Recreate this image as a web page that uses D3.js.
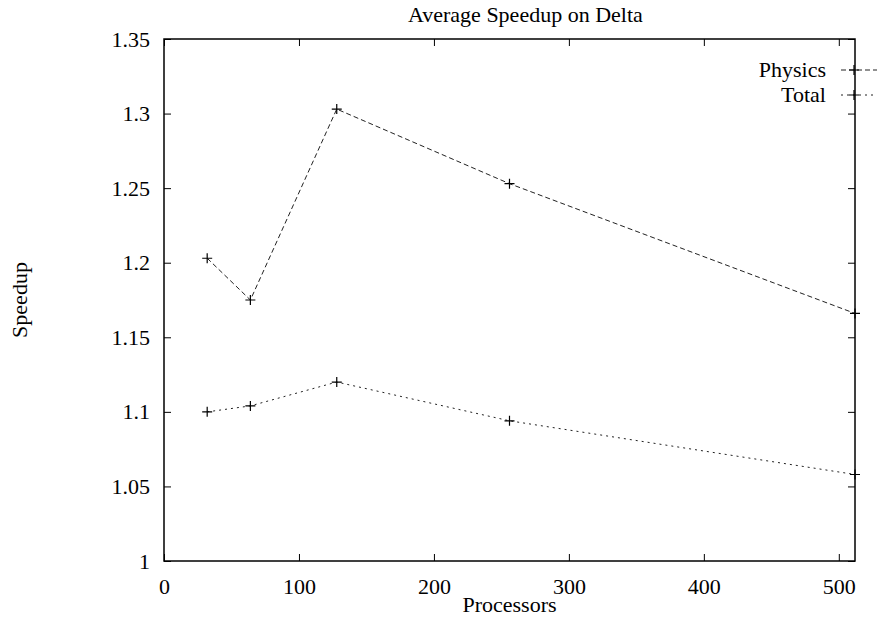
<!DOCTYPE html>
<html>
<head>
<meta charset="utf-8">
<script src="https://cdn.jsdelivr.net/npm/d3@7"></script>
<style>
  body { margin: 0; background: #fff; }
  text { font-family: "Liberation Serif", "Times New Roman", serif; fill: #000; }
</style>
</head>
<body>
<div id="chart"></div>
<script>
var svgWidth = 895;
var svgHeight = 618;

var margin = { top: 39, right: 40, bottom: 57, left: 164 };
var width = svgWidth - margin.left - margin.right;
var height = svgHeight - margin.top - margin.bottom;

// data
var processors = [32, 64, 128, 256, 512];
var physics = [1.203, 1.175, 1.303, 1.253, 1.166];
var total = [1.100, 1.104, 1.120, 1.094, 1.058];
var xTicks = [0, 100, 200, 300, 400, 500];
var yTicks = [1, 1.05, 1.1, 1.15, 1.2, 1.25, 1.3, 1.35];

var series = [
    { name: "Physics", values: physics, dash: "5,3" },
    { name: "Total", values: total, dash: "2,4" }
];

var svg = d3.select("#chart")
    .append("svg")
    .attr("width", svgWidth)
    .attr("height", svgHeight);

var chartGroup = svg.append("g")
    .attr("transform", `translate(${margin.left}, ${margin.top})`);

var xScale = d3.scaleLinear().domain([0, 512]).range([0, width]);
var yScale = d3.scaleLinear().domain([1, 1.35]).range([height, 0]);

var fontSize = 22;
var tickLen = 7;

// axes (ticks inward, mirrored on top and right)
var bottomAxis = d3.axisBottom(xScale).tickValues(xTicks).tickSize(-tickLen).tickPadding(17).tickFormat(d3.format("d"));
var topAxis = d3.axisTop(xScale).tickValues(xTicks).tickSize(-tickLen).tickFormat("");
var leftAxis = d3.axisLeft(yScale).tickValues(yTicks).tickSize(-tickLen).tickPadding(14).tickFormat(d => String(+d.toFixed(2)));
var rightAxis = d3.axisRight(yScale).tickValues(yTicks).tickSize(-tickLen).tickFormat("");

function styleAxis(g) {
    g.select(".domain").remove();
    g.selectAll("line").attr("stroke", "#000").attr("stroke-width", 1);
    g.selectAll("text").attr("font-size", fontSize).attr("font-family", "Liberation Serif, serif").attr("fill", "#000");
}

chartGroup.append("g").attr("transform", `translate(0, ${height})`).call(bottomAxis).call(styleAxis);
chartGroup.append("g").call(topAxis).call(styleAxis);
chartGroup.append("g").call(leftAxis).call(styleAxis);
chartGroup.append("g").attr("transform", `translate(${width}, 0)`).call(rightAxis).call(styleAxis);

// frame
chartGroup.append("rect")
    .attr("x", 0).attr("y", 0)
    .attr("width", width).attr("height", height)
    .attr("fill", "none")
    .attr("stroke", "#000")
    .attr("stroke-width", 1.5);

// lines + points
var line = d3.line()
    .x((d, i) => xScale(processors[i]))
    .y(d => yScale(d));

series.forEach(function (s) {
    chartGroup.append("path")
        .datum(s.values)
        .attr("d", line)
        .attr("fill", "none")
        .attr("stroke", "#222")
        .attr("stroke-width", 1)
        .attr("stroke-dasharray", s.dash);

    chartGroup.append("g").selectAll("path")
        .data(s.values)
        .enter()
        .append("path")
        .attr("d", (d, i) => {
            var x = xScale(processors[i]), y = yScale(d);
            return `M${x - 5},${y}H${x + 5}M${x},${y - 5}V${y + 5}`;
        })
        .attr("stroke", "#000")
        .attr("stroke-width", 1.2);
});

// legend
var legend = svg.append("g");
series.forEach(function (s, i) {
    var y = 70 + i * 25;
    legend.append("text")
        .attr("x", 826)
        .attr("y", y)
        .attr("dy", "0.32em")
        .attr("text-anchor", "end")
        .attr("font-size", fontSize)
        .text(s.name);
    legend.append("line")
        .attr("x1", 841).attr("x2", 877)
        .attr("y1", y).attr("y2", y)
        .attr("stroke", "#222")
        .attr("stroke-width", 1)
        .attr("stroke-dasharray", s.dash);
    legend.append("path")
        .attr("d", `M849,${y}H859M854,${y - 5}V${y + 5}`)
        .attr("stroke", "#000")
        .attr("stroke-width", 1.2);
});

// title and axis labels
svg.append("text")
    .attr("x", 408)
    .attr("y", 22)
    .attr("font-size", fontSize)
    .text("Average Speedup on Delta");

svg.append("text")
    .attr("x", margin.left + width / 2)
    .attr("y", 612)
    .attr("text-anchor", "middle")
    .attr("font-size", fontSize)
    .text("Processors");

svg.append("text")
    .attr("transform", `translate(27, ${margin.top + height / 2}) rotate(-90)`)
    .attr("text-anchor", "middle")
    .attr("font-size", fontSize)
    .text("Speedup");
</script>
</body>
</html>
